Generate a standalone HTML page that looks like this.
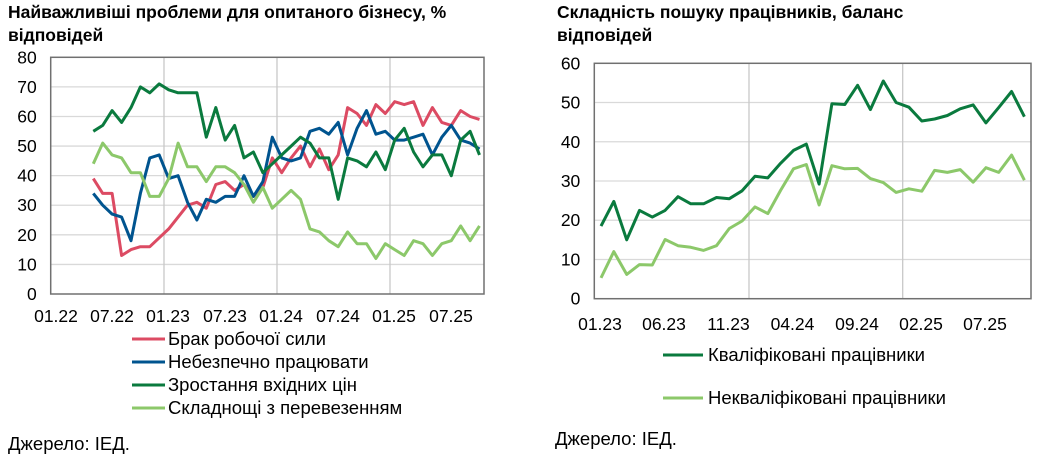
<!DOCTYPE html>
<html><head><meta charset="utf-8"><style>
body{margin:0;background:#fff;width:1038px;height:455px;overflow:hidden}
svg text{font-family:"Liberation Sans",sans-serif;fill:#000}
</style></head><body>
<svg id="s" width="1038" height="455" xmlns="http://www.w3.org/2000/svg">
<text x="8" y="18" font-size="17.5" font-weight="bold">Найважливіші проблеми для опитаного бізнесу, %</text>
<text x="8" y="41" font-size="17.5" font-weight="bold">відповідей</text>
<text x="557" y="18" font-size="17.5" font-weight="bold">Складність пошуку працівників, баланс</text>
<text x="557" y="41" font-size="17.5" font-weight="bold">відповідей</text>
<g id="L"></g><g id="R"></g>
<g font-size="18.5">
<line x1="132" y1="339" x2="165" y2="339" stroke="#dc4b63" stroke-width="3"/><text x="168" y="345">Брак робочої сили</text>
<line x1="132" y1="362" x2="165" y2="362" stroke="#00548f" stroke-width="3"/><text x="168" y="368">Небезпечно працювати</text>
<line x1="132" y1="385" x2="165" y2="385" stroke="#0a7a3e" stroke-width="3"/><text x="168" y="391">Зростання вхідних цін</text>
<line x1="132" y1="408" x2="165" y2="408" stroke="#8cc86a" stroke-width="3"/><text x="168" y="414">Складнощі з перевезенням</text>
<line x1="663" y1="355" x2="703" y2="355" stroke="#0a7a3e" stroke-width="3"/><text x="708" y="361">Кваліфіковані працівники</text>
<line x1="663" y1="398" x2="703" y2="398" stroke="#8cc86a" stroke-width="3"/><text x="708" y="404">Некваліфіковані працівники</text>
<text x="8" y="450">Джерело: ІЕД.</text>
<text x="555" y="445">Джерело: ІЕД.</text>
</g>
</svg>
<script>
var NS="http://www.w3.org/2000/svg";
function el(p,t,a,txt){var e=document.createElementNS(NS,t);for(var k in a)e.setAttribute(k,a[k]);if(txt!==undefined)e.textContent=txt;p.appendChild(e);return e;}
function chart(g,o){
 var x0=o.x0,x1=o.x1,yT=o.yT,yB=o.yB;
 function Y(v){return yB-(v/o.max)*(yB-yT);}
 for(var v=0;v<=o.max;v+=10){var y=Y(v);
  if(v>0&&v<o.max)el(g,"line",{x1:x0,y1:y,x2:x1,y2:y,stroke:"#d9d9d9","stroke-width":1.3});
  el(g,"text",{x:x0-14,y:y+6,"text-anchor":"end","font-size":"17.5"},String(v));}
 o.vg.forEach(function(x){el(g,"line",{x1:x,y1:yT,x2:x,y2:yB,stroke:"#c8c8c8","stroke-width":1.3});});
 el(g,"rect",{x:x0,y:yT,width:x1-x0,height:yB-yT,fill:"none",stroke:"#707070","stroke-width":1.5});
 o.xl.forEach(function(l){el(g,"text",{x:l[0],y:o.xly,"text-anchor":"middle","font-size":"17.5"},l[1]);});
 o.s.forEach(function(s){var pts=s.d.map(function(v,i){return (o.px0+i*o.step).toFixed(1)+","+Y(v).toFixed(1);}).join(" ");
  el(g,"polyline",{points:pts,fill:"none",stroke:s.c,"stroke-width":3,"stroke-linejoin":"round"});});
}
chart(document.getElementById("L"),{x0:50.7,x1:484,yT:57.3,yB:294,max:80,vg:[164,277,390],xly:322,
 xl:[[56,"01.22"],[112,"07.22"],[168,"01.23"],[225,"07.23"],[281,"01.24"],[338,"07.24"],[394,"01.25"],[451,"07.25"]],
 px0:93.3,step:9.42,s:[
 {c:"#dc4b63",d:[39,34,34,13,15,16,16,19,22,26,30,31,29,37,38,35,37,33,36,46,41,46,50,43,49,42,47,63,61,57,64,61,65,64,65,57,63,58,57,62,60,59]},
 {c:"#00548f",d:[34,30,27,26,18,34,46,47,39,40,31,25,32,31,33,33,40,33,38,53,46,45,46,55,56,54,58,47,56,62,54,55,52,52,53,54,47,53,57,52,51,49]},
 {c:"#0a7a3e",d:[55,57,62,58,63,70,68,71,69,68,68,68,53,63,52,57,46,48,41,44,47,50,53,51,46,46,32,46,45,43,48,42,52,56,48,43,47,47,40,52,55,47]},
 {c:"#8cc86a",d:[44,51,47,46,41,41,33,33,39,51,43,43,38,43,43,41,37,31,36,29,32,35,32,22,21,18,16,21,17,17,12,17,15,13,18,17,13,17,18,23,18,23]}]});
chart(document.getElementById("R"),{x0:594.3,x1:1031,yT:63.3,yB:298.7,max:60,vg:[749,902.7],xly:330,
 xl:[[600,"01.23"],[664,"06.23"],[728.5,"11.23"],[792.5,"04.24"],[857,"09.24"],[921,"02.25"],[985,"07.25"]],
 px0:601,step:12.83,s:[
 {c:"#0a7a3e",d:[18.5,24.8,15,22.5,20.8,22.5,26,24.2,24.2,25.8,25.5,27.5,31.2,30.8,34.5,37.8,39.4,29.2,49.7,49.5,54.4,48.2,55.5,50,48.8,45.3,45.8,46.7,48.4,49.4,44.8,48.7,52.8,46.4]},
 {c:"#8cc86a",d:[5.3,12,6.2,8.7,8.6,15.1,13.5,13.1,12.3,13.5,17.9,19.8,23.4,21.7,27.6,33.1,34.2,23.9,33.9,33.1,33.2,30.6,29.6,27.1,28,27.4,32.7,32.2,32.9,29.7,33.4,32.2,36.6,30.2]}]});
</script>
</body></html>
